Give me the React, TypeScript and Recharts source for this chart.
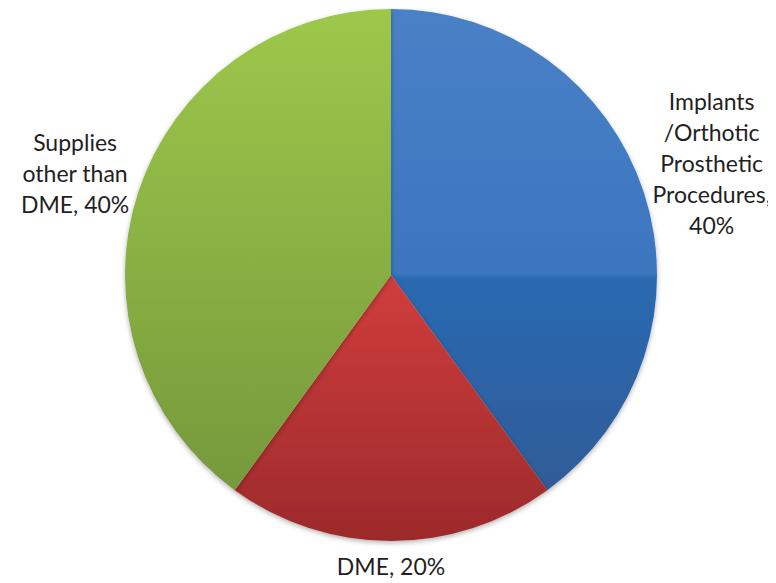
import { PieChart, Pie, Cell } from 'recharts'

const categories = ['Implants /Orthotic Prosthetic Procedures', 'DME', 'Supplies other than DME']
const shares = [40, 20, 40]
// how each label wraps in the original
const labelLines = [
  ['Implants', '/Orthotic', 'Prosthetic', 'Procedures,', '40%'],
  ['DME, 20%'],
  ['Supplies', 'other than', 'DME, 40%'],
]
const gradientIds = ['gradBlue', 'gradRed', 'gradGreen']

const data = categories.map((name, i) => ({ name, value: shares[i] }))

const FONT_SIZE = 23
const LINE_HEIGHT = 31
const FONT = `${FONT_SIZE}px Lato, "Open Sans", sans-serif`

let ctx: CanvasRenderingContext2D | null = null
function textWidth(s: string): number {
  if (!ctx) ctx = document.createElement('canvas').getContext('2d')
  if (!ctx) return s.length * FONT_SIZE * 0.5
  ctx.font = FONT
  return ctx.measureText(s).width
}

const RADIAN = Math.PI / 180

function renderLabel(props: any) {
  const { cx, cy, midAngle, outerRadius, index } = props
  const lines = labelLines[index]
  const cos = Math.cos(-midAngle * RADIAN)
  const sin = Math.sin(-midAngle * RADIAN)
  const r = outerRadius + 12
  const ax = cx + r * cos
  const ay = cy + r * sin
  const w = Math.max(...lines.map(textWidth))
  const h = lines.length * LINE_HEIGHT
  // push the text box outward so its near edge sits at the anchor
  const bx = ax + (w / 2) * cos
  const by = ay + (h / 2) * sin
  const top = by - h / 2
  return (
    <text
      key={`lbl-${index}`}
      x={bx}
      y={top}
      textAnchor="middle"
      fill="#1f1f1f"
      style={{ fontFamily: 'Lato, "Open Sans", sans-serif', fontSize: FONT_SIZE }}
    >
      {lines.map((ln, i) => (
        <tspan key={i} x={bx} y={top + LINE_HEIGHT * i + LINE_HEIGHT * 0.72}>
          {ln}
        </tspan>
      ))}
    </text>
  )
}

export default function App() {
  return (
    <div style={{ width: 768, height: 575, background: '#fff' }}>
      <PieChart width={768} height={575} margin={{ top: 0, right: 0, bottom: 0, left: 0 }}>
        <defs>
          <linearGradient id="gradBlue" x1="0" y1="0" x2="0" y2="1">
            <stop offset="0" stopColor="#4a80c6" />
            <stop offset="0.55" stopColor="#3a76bf" />
            <stop offset="0.56" stopColor="#2a69b1" />
            <stop offset="1" stopColor="#305c98" />
          </linearGradient>
          <linearGradient id="gradRed" x1="0" y1="0" x2="0" y2="1">
            <stop offset="0" stopColor="#d13d3d" />
            <stop offset="1" stopColor="#9c2a2b" />
          </linearGradient>
          <linearGradient id="gradGreen" x1="0" y1="0" x2="0" y2="1">
            <stop offset="0" stopColor="#9dc84b" />
            <stop offset="1" stopColor="#76993b" />
          </linearGradient>
          <filter id="pieShadow" x="-10%" y="-10%" width="120%" height="120%">
            <feDropShadow dx="0" dy="2" stdDeviation="2.5" floodColor="#000" floodOpacity="0.3" />
          </filter>
        </defs>
        <Pie
          data={data}
          dataKey="value"
          nameKey="name"
          cx={383}
          cy={267}
          outerRadius={266}
          startAngle={90}
          endAngle={-270}
          stroke="none"
          label={renderLabel}
          labelLine={false}
          isAnimationActive={false}
        >
          {data.map((d, i) => (
            <Cell key={d.name} fill={`url(#${gradientIds[i]})`} filter="url(#pieShadow)" />
          ))}
        </Pie>
      </PieChart>
    </div>
  )
}
